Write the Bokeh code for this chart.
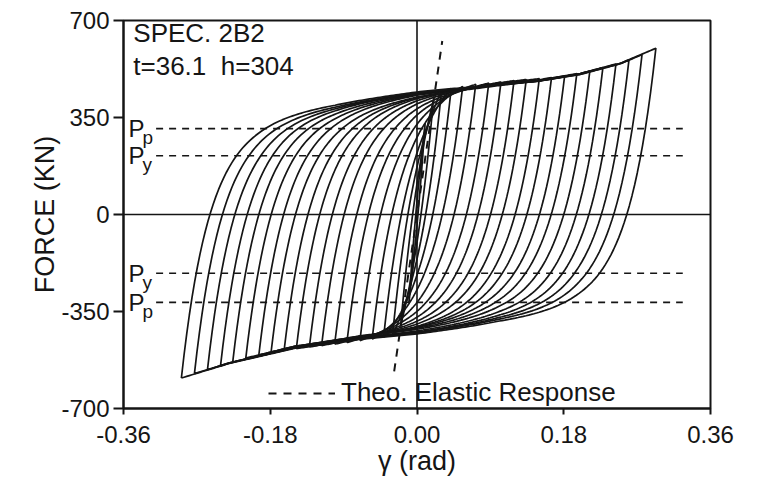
import numpy as np
from bokeh.plotting import figure
from bokeh.models import (Span, Label, Legend, LegendItem, FixedTicker, Range1d,
                          ColumnDataSource)
from bokeh.embed import file_html
from bokeh.resources import INLINE

# ---------------- data ----------------
# positive peaks of each cycle (gamma, force kN)
pos_peak_gamma = [0.010, 0.020, 0.030, 0.042, 0.056, 0.072, 0.088, 0.103, 0.119, 0.134,
                  0.150, 0.165, 0.181, 0.196, 0.212, 0.228, 0.244, 0.260, 0.276, 0.293]
pos_peak_force = [330, 410, 445, 455, 462, 470, 474, 478, 483, 487,
                  490, 494, 498, 508, 518, 530, 543, 558, 577, 600]
# negative peaks of each cycle
neg_peak_gamma = [-0.010, -0.020, -0.030, -0.041, -0.055, -0.070, -0.086, -0.101, -0.117, -0.132,
                  -0.148, -0.163, -0.179, -0.194, -0.210, -0.226, -0.241, -0.257, -0.273, -0.289]
neg_peak_force = [-320, -400, -435, -443, -450, -455, -462, -468, -473, -478,
                  -484, -490, -497, -507, -518, -532, -546, -560, -574, -590]

# plateau the loading (upper) branches run along
upper_band_gamma = [-0.30, -0.20, -0.10, 0.00, 0.07, 0.15, 0.20, 0.25, 0.30]
upper_band_force = [400, 412, 432, 458, 470, 488, 510, 548, 610]
# plateau the unloading (lower) branches run along
lower_band_gamma = [-0.30, -0.289, -0.23, -0.15, -0.07, 0.00, 0.10, 0.20, 0.30]
lower_band_force = [-600, -590, -538, -486, -458, -445, -420, -405, -400]
# how a branch bends onto its plateau: fast part and slow tail (gamma units, share)
bend_fast, bend_slow, slow_share = 0.033, 0.13, 0.15

# yield / plastic shear levels
level_names = ["p", "y", "y", "p"]
level_force = [310, 212, -212, -317]
level_extent = [-0.32, 0.326]

# theoretical elastic response
elastic_gamma = [-0.028, 0.031]
elastic_force = [-566, 626]

x_ticks = [-0.36, -0.18, 0.0, 0.18, 0.36]
x_tick_labels = ["-0.36", "-0.18", "0.00", "0.18", "0.36"]
y_ticks = [-700, -350, 0, 350, 700]
y_tick_labels = ["-700", "-350", "0", "350", "700"]

FONT = "Liberation Sans"
INK = "#151515"


def _norm_exp(d, D, s):
    return (np.exp(-d / s) - np.exp(-D / s)) / (1.0 - np.exp(-D / s))


def branch(x0, f0, x1, f1, band_x, band_f, n=180):
    xs = np.linspace(x0, x1, n)
    band = np.interp(xs, band_x, band_f)
    d = np.abs(xs - x0)
    D = abs(x1 - x0)
    e = (1 - slow_share) * _norm_exp(d, D, bend_fast) + slow_share * _norm_exp(d, D, bend_slow)
    shift = f1 - band[-1]
    fs = (band + shift) - (band[0] + shift - f0) * e
    return xs, fs


loops_x, loops_y = [], []
for ap, fp, an, fn in zip(pos_peak_gamma, pos_peak_force, neg_peak_gamma, neg_peak_force):
    ux, uy = branch(an, fn, ap, fp, upper_band_gamma, upper_band_force)
    dx, dy = branch(ap, fp, an, fn, lower_band_gamma, lower_band_force)
    loops_x.append(np.concatenate([ux, dx[1:]]))
    loops_y.append(np.concatenate([uy, dy[1:]]))

p = figure(width=752, height=485, output_backend="svg", toolbar_location=None,
           x_range=Range1d(-0.36, 0.36), y_range=Range1d(-700, 700),
           min_border_left=123, min_border_right=42, min_border_top=20,
           min_border_bottom=77)
p.background_fill_color = "white"
p.border_fill_color = "white"
p.grid.visible = False
p.outline_line_color = INK
p.outline_line_width = 2

p.xaxis.ticker = FixedTicker(ticks=x_ticks)
p.xaxis.major_label_overrides = {t: l for t, l in zip(x_ticks, x_tick_labels)}
p.yaxis.ticker = FixedTicker(ticks=y_ticks)
p.yaxis.major_label_overrides = {t: l for t, l in zip(y_ticks, y_tick_labels)}
for ax in (p.xaxis[0], p.yaxis[0]):
    ax.axis_line_width = 2
    ax.axis_line_color = INK
    ax.major_tick_line_width = 2
    ax.major_tick_line_color = INK
    ax.major_tick_in = 0
    ax.minor_tick_line_color = None
    ax.major_label_text_font = FONT
    ax.major_label_text_font_size = "24px"
    ax.major_label_text_color = INK
    ax.axis_label_text_font = FONT
    ax.axis_label_text_font_size = "27px"
    ax.axis_label_text_font_style = "normal"
    ax.axis_label_text_color = INK
p.xaxis.major_tick_out = 6
p.yaxis.major_tick_out = 10
p.yaxis.major_label_standoff = 4
p.xaxis.major_label_standoff = 11
p.xaxis.axis_label = "\u03b3 (rad)"
p.yaxis.axis_label = "FORCE (KN)"
p.xaxis.axis_label_standoff = 0
p.yaxis.axis_label_standoff = -2

p.add_layout(Span(location=0, dimension="height", line_color=INK, line_width=1.6))
p.add_layout(Span(location=0, dimension="width", line_color=INK, line_width=1.6))

# hysteresis loops
p.multi_line(xs=loops_x, ys=loops_y, line_color=INK, line_width=1.7)

# yield / plastic levels
lev_src = ColumnDataSource(dict(x0=[level_extent[0]] * len(level_force),
                                x1=[level_extent[1]] * len(level_force),
                                y=level_force))
p.segment(x0="x0", y0="y", x1="x1", y1="y", source=lev_src,
          line_color=INK, line_width=1.6, line_dash="7 6")
for name, f in zip(level_names, level_force):
    p.add_layout(Label(x=-0.354, y=f, text="P", text_font=FONT, text_font_size="24px",
                       text_baseline="middle", text_align="left", text_color=INK))
    p.add_layout(Label(x=-0.354, y=f, x_offset=14, y_offset=-9, text=name,
                       text_font=FONT, text_font_size="19px",
                       text_baseline="middle", text_align="left", text_color=INK))

# theoretical elastic line
el = p.line(elastic_gamma, elastic_force, line_color=INK, line_width=2,
            line_dash="8 7")

legend = Legend(items=[LegendItem(label="Theo. Elastic Response", renderers=[el])],
                location=(145, 0), glyph_width=67, glyph_height=20, padding=0,
                margin=0, spacing=0, label_standoff=6,
                label_text_font=FONT, label_text_font_size="26px",
                label_text_color=INK,
                background_fill_alpha=0, border_line_alpha=0)
p.add_layout(legend, "center")

p.add_layout(Label(x=-0.348, y=602, text="SPEC. 2B2", text_font=FONT,
                   text_font_size="26px", text_color=INK))
p.add_layout(Label(x=-0.348, y=483, text="t=36.1\u00a0\u00a0h=304", text_font=FONT,
                   text_font_size="26px", text_color=INK))

open("out.html", "w").write(file_html(p, INLINE))
